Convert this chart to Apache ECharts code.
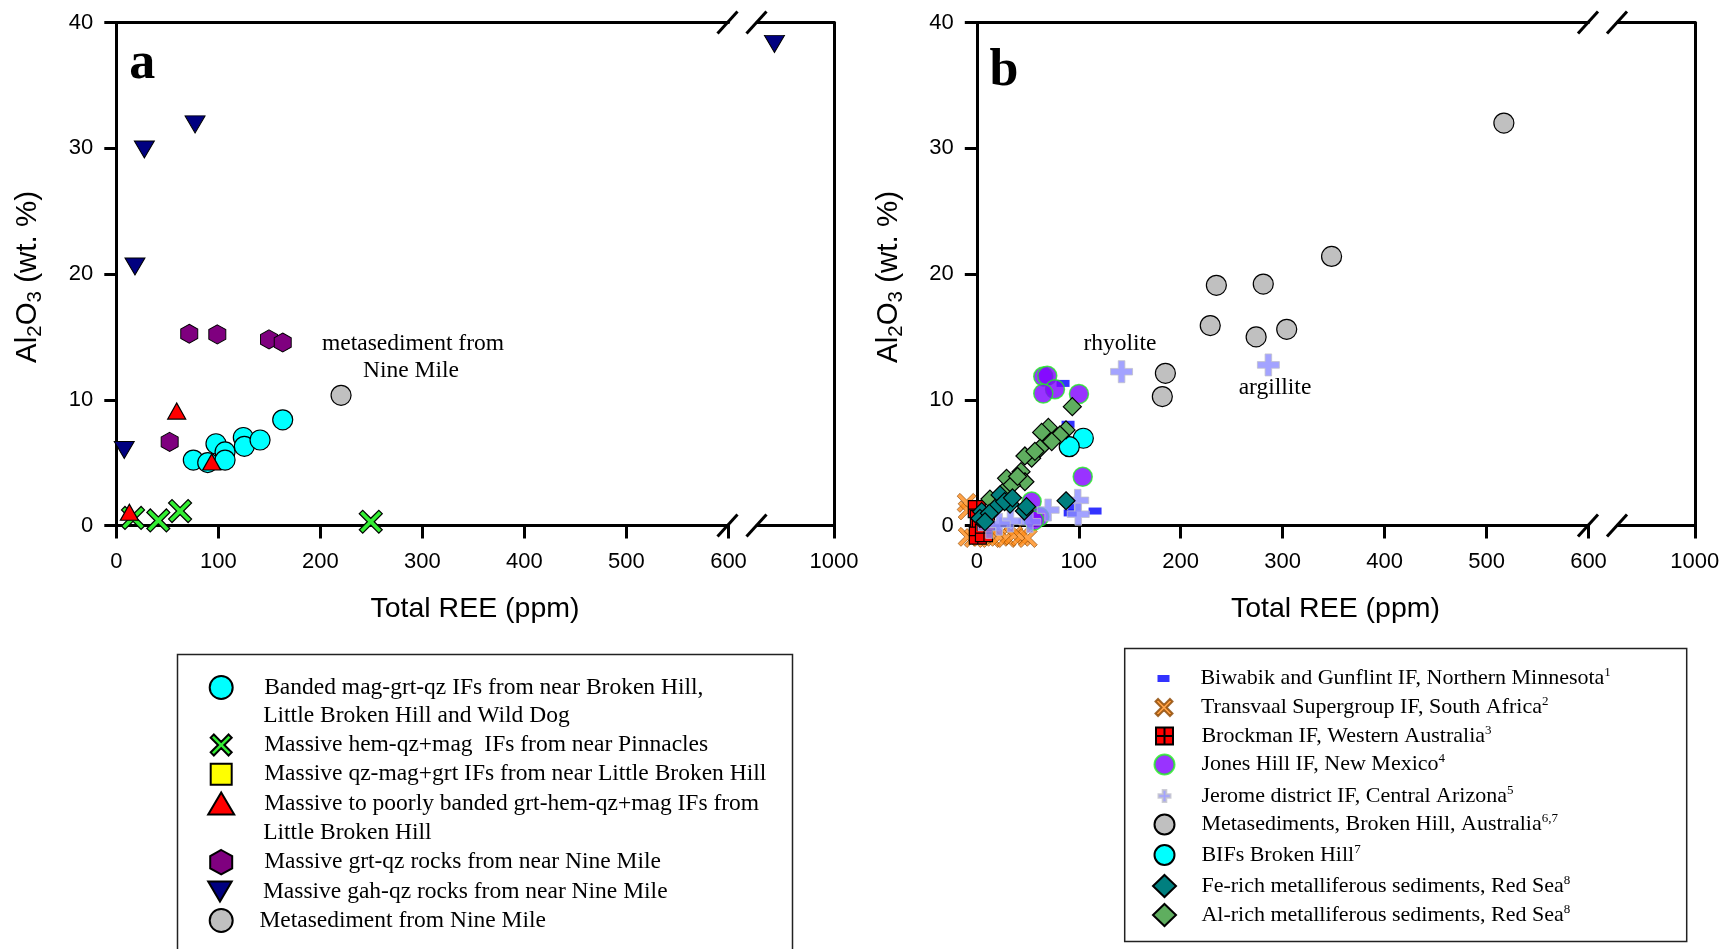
<!DOCTYPE html>
<html><head><meta charset="utf-8">
<script src="https://cdn.jsdelivr.net/npm/echarts@6.0.0/dist/echarts.min.js"></script>
<style>html,body{margin:0;padding:0;background:#fff}#c{width:1724px;height:949px}</style>
</head><body><div id="c"></div><script>
// ---------------- DATA ----------------
const X_TICKS = [0, 100, 200, 300, 400, 500, 600];
const X_TICKS_AFTER_BREAK = [1000];
const Y_TICKS = [0, 10, 20, 30, 40];

// Panel a categories
const NAMES_A = [
  'Banded mag-grt-qz IFs from near Broken Hill, Little Broken Hill and Wild Dog',
  'Massive hem-qz+mag  IFs from near Pinnacles',
  'Massive qz-mag+grt IFs from near Little Broken Hill',
  'Massive to poorly banded grt-hem-qz+mag IFs from Little Broken Hill',
  'Massive grt-qz rocks from near Nine Mile',
  'Massive gah-qz rocks from near Nine Mile',
  'Metasediment from Nine Mile'
];
// Panel a values [Total REE ppm, Al2O3 wt.%]
const a_banded = [[75.5,5.2],[89.6,5.0],[97.7,6.5],[106.6,5.85],[106.6,5.2],[124.5,7.0],[125.5,6.3],[140.9,6.8],[163.1,8.4]];
const a_hemQz = [[16.4,0.6],[41.2,0.4],[62.5,1.15],[249.4,0.3]];
const a_qzMag = [];
const a_grtHem = [[12.8,1.05],[59.2,9.1],[93.5,5.05]];
const a_grtQz = [[71.5,15.25],[99,15.2],[149.7,14.8],[163.1,14.55],[52.3,6.65]];
const a_gahQz = [[7.8,6.0],[18.3,20.6],[27.5,29.9],[77.2,31.9],[942,38.3]];
const a_metased = [[220.3,10.35]];

// Panel b categories and superscripts
const NAMES_B = [
  'Biwabik and Gunflint IF, Northern Minnesota',
  'Transvaal Supergroup IF, South Africa',
  'Brockman IF, Western Australia',
  'Jones Hill IF, New Mexico',
  'Jerome district IF, Central Arizona',
  'Metasediments, Broken Hill, Australia',
  'BIFs Broken Hill',
  'Fe-rich metalliferous sediments, Red Sea',
  'Al-rich metalliferous sediments, Red Sea'
];
const SUPS_B = ['1','2','3','4','5','6,7','7','8','8'];
const b_biwabik = [[84.6,11.3],[89.5,8.05],[96,1.5],[116,1.15],[91.6,1.0]];
const b_transvaal = [[-10,1.8],[-9,1.2],[-9,-0.9],[-3,-1.0],[5,-0.9],[14,-1.0],[22,-0.9],[29,-1.0],[36,-0.8],[43,-0.9],[50,-1.0]];
const b_brockman = [[0,1.3],[2,0.5],[4,-0.2],[1,-0.8],[7,-0.6],[9,0.3]];
const b_jones = [[65.2,11.84],[69.1,11.9],[76.7,10.84],[65.2,10.5],[100.2,10.46],[103.9,3.88],[53.8,1.9],[61.3,0.7],[56,0.4]];
const b_jerome = [[142,12.23],[286,12.77],[70,1.23],[99,2.0],[99.5,0.9],[52,0.3],[33,0.35],[12,-0.15],[22,0.1]];
const b_metased = [[517,32.0],[348,21.4],[235,19.1],[281,19.2],[229,15.9],[274,15.0],[304,15.6],[185,12.1],[182,10.25]];
const b_bifs = [[104.5,6.94],[90.7,6.27]];
const b_feRich = [[87.5,1.97],[46.6,1.15],[32.6,1.7],[22.8,2.43],[17.9,1.37],[4.8,1.1],[3.1,0.57],[12.3,0.97],[27.3,1.9],[48.8,1.5],[8,0.3],[35,2.2]];
const b_alRich = [[93.7,9.45],[70.2,7.8],[63.6,7.4],[87.5,7.6],[81.6,7.2],[73.5,6.67],[62,6.14],[53.8,5.35],[47.2,5.53],[43.4,4.28],[47.2,3.48],[29.2,3.75],[34.1,3.2],[12.9,2.1],[57,5.9],[40,3.9],[25,2.6]];

// ---------------- STYLE / LAYOUT ----------------
const BREAK_AT = 600, POST_MIN = 925, POST_MAX = 1000;
const P_X = 'path://M0,3L3,0L10,7L17,0L20,3L13,10L20,17L17,20L10,13L3,20L0,17L7,10Z';
const P_HEX = 'path://M10,0L19,5L19,15L10,20L1,15L1,5Z';
const P_INVTRI = 'path://M0,0L20,0L10,17Z';
const P_PLUS = 'path://M7,0H13V7H20V13H13V20H7V13H0V7H7Z';
const P_GRIDSQ = 'path://M0,0H10V10H0Z M10,0H20V10H10Z M0,10H10V20H0Z M10,10H20V20H10Z';

const SANS = 'Liberation Sans';
const SERIF = 'Liberation Serif';
const plainNum = v => String(v);

const grids = [
  {left:116.3, top:22.5, width:612.2, height:503},
  {left:757, top:22.5, width:77, height:503},
  {left:976.8, top:22.5, width:611.7, height:503},
  {left:1617.5, top:22.5, width:77.3, height:503}
];

const axisLineStyle = {color:'#000', width:3};
const xAxes = [], yAxes = [];
for (let p = 0; p < 2; p++) {
  const g0 = p*2, g1 = p*2+1;
  xAxes.push({type:'value', gridIndex:g0, min:0, max:BREAK_AT, interval:100, position:'bottom',
    axisLine:{onZero:false, lineStyle:axisLineStyle},
    axisTick:{length:13, lineStyle:{color:'#000', width:3}, customValues:X_TICKS},
    axisLabel:{margin:25, fontSize:22, fontFamily:SANS, color:'#000', customValues:X_TICKS, formatter:plainNum},
    splitLine:{show:false}});
  xAxes.push({type:'value', gridIndex:g1, min:POST_MIN, max:POST_MAX, position:'bottom',
    axisLine:{onZero:false, lineStyle:axisLineStyle},
    axisTick:{length:13, lineStyle:{color:'#000', width:3}, customValues:X_TICKS_AFTER_BREAK},
    axisLabel:{margin:25, fontSize:22, fontFamily:SANS, color:'#000', customValues:X_TICKS_AFTER_BREAK, formatter:plainNum},
    splitLine:{show:false}});
  yAxes.push({type:'value', gridIndex:g0, min:0, max:40, interval:10, position:'left',
    axisLine:{onZero:false, lineStyle:axisLineStyle},
    axisTick:{length:12, lineStyle:{color:'#000', width:3}},
    axisLabel:{margin:23, fontSize:22, fontFamily:SANS, color:'#000', customValues:Y_TICKS, formatter:plainNum},
    splitLine:{show:false}});
  yAxes.push({type:'value', gridIndex:g1, min:0, max:40, position:'right',
    axisLine:{onZero:false, lineStyle:axisLineStyle},
    axisTick:{show:false}, axisLabel:{show:false}, splitLine:{show:false}});
}
// top frame lines
for (let g = 0; g < 4; g++) {
  const post = g % 2 === 1;
  xAxes.push({type:'value', gridIndex:g, min: post ? POST_MIN : 0, max: post ? POST_MAX : BREAK_AT, position:'top',
    axisLine:{onZero:false, lineStyle:axisLineStyle}, axisTick:{show:false}, axisLabel:{show:false}, splitLine:{show:false}});
}

const series = [];
function addSeries(panel, name, data, symbol, size, itemStyle, z) {
  const main = data.filter(d => d[0] <= BREAK_AT);
  const post = data.filter(d => d[0] > BREAK_AT);
  const base = {type:'scatter', name, symbol, symbolSize:size, itemStyle, clip:false, z:z||2,
    emphasis:{disabled:true}, animation:false};
  series.push(Object.assign({}, base, {xAxisIndex:panel*2, yAxisIndex:panel*2, data:main}));
  if (post.length) series.push(Object.assign({}, base, {xAxisIndex:panel*2+1, yAxisIndex:panel*2+1, data:post}));
}
const blk = (c, w) => ({color:c, borderColor:'#000', borderWidth:w===undefined?1.2:w, opacity:1});

// panel a
addSeries(0, NAMES_A[0], a_banded, 'circle', 20, blk('#00ffff'));
addSeries(0, NAMES_A[1], a_hemQz, P_X, 23, blk('#33ee33', 1.2));
addSeries(0, NAMES_A[2], a_qzMag, 'rect', 18, blk('#ffff00'));
addSeries(0, NAMES_A[3], a_grtHem, 'triangle', [18,16], blk('#ff0000'));
addSeries(0, NAMES_A[4], a_grtQz, P_HEX, [17,19], blk('#7f007f', 1));
addSeries(0, NAMES_A[5], a_gahQz, P_INVTRI, [20,17], blk('#000080', 1));
addSeries(0, NAMES_A[6], a_metased, 'circle', 20, blk('#c0c0c0'));
// panel b
addSeries(1, NAMES_B[0], b_biwabik, 'rect', [13,7], {color:'#0000ff', borderWidth:0});
addSeries(1, NAMES_B[1], b_transvaal, P_X, 19, {color:'#ff8c1a', borderColor:'#8a4500', borderWidth:0.8});
addSeries(1, NAMES_B[2], b_brockman, P_GRIDSQ, 17, blk('#ff0000', 1.2));
addSeries(1, NAMES_B[3], b_jones, 'circle', 19, {color:'#8000ff', borderColor:'#22ee22', borderWidth:1.5});
addSeries(1, NAMES_B[4], b_jerome, P_PLUS, 22, {color:'#8c8cff', borderColor:'#c0c0cc', borderWidth:1});
addSeries(1, NAMES_B[5], b_metased, 'circle', 20, blk('#c0c0c0'));
addSeries(1, NAMES_B[6], b_bifs, 'circle', 20, blk('#00ffff'));
addSeries(1, NAMES_B[8], b_alRich, 'diamond', 18, blk('#5fae5f'), 3);
addSeries(1, NAMES_B[7], b_feRich, 'diamond', 18, blk('#007f7f'), 4);

// ---------------- LEGENDS (one row per legend) ----------------
const legendRowsA = [
  {i:0, text:'Banded mag-grt-qz IFs from near Broken Hill,', y:687.5, w:23, h:23, tx:263.2},
  {i:1, text:'Massive hem-qz+mag  IFs from near Pinnacles', y:745, w:21, h:21, tx:263.2},
  {i:2, text:'Massive qz-mag+grt IFs from near Little Broken Hill', y:774.3, w:21, h:21, tx:263.2},
  {i:3, text:'Massive to poorly banded grt-hem-qz+mag IFs from', y:803.5, w:26, h:22, tx:263.2},
  {i:4, text:'Massive grt-qz rocks from near Nine Mile', y:862, w:22, h:25, tx:263.2},
  {i:5, text:'Massive gah-qz rocks from near Nine Mile', y:891.5, w:26, h:20, tx:263.2},
  {i:6, text:'Metasediment from Nine Mile', y:920.5, w:23, h:23, tx:258.4}
];
const legendRowsB = [
  {i:0, y:678.5, w:12, h:7}, {i:1, y:707.5, w:18, h:17}, {i:2, y:736, w:17, h:17},
  {i:3, y:764.5, w:20, h:20}, {i:4, y:796, w:12, h:12}, {i:5, y:824.5, w:20, h:20},
  {i:6, y:855, w:20, h:20}, {i:7, y:886, w:23, h:22}, {i:8, y:915, w:23, h:22}
];
const legends = [];
const LH_A = 26, LH_B = 24;
legendRowsA.forEach(r => {
  const cx = 220.2, left = cx - r.w/2;
  legends.push({show:true, selectedMode:false, orient:'vertical', padding:0, itemGap:0,
    left:left, top:r.y - Math.max(r.h, LH_A)/2, itemWidth:r.w, itemHeight:r.h,
    data:[NAMES_A[r.i]], formatter:() => r.text,
    textStyle:{fontFamily:SERIF, fontSize:23.5, color:'#000', lineHeight:LH_A,
      padding:[0,0,0, r.tx - (left + r.w + 5)]}});
});
legendRowsB.forEach(r => {
  const cx = 1163.5, left = cx - r.w/2, tx = 1200.4;
  legends.push({show:true, selectedMode:false, orient:'vertical', padding:0, itemGap:0,
    left:left, top:r.y - Math.max(r.h, LH_B)/2, itemWidth:r.w, itemHeight:r.h,
    data:[NAMES_B[r.i]], formatter:(n) => n + '{s|' + SUPS_B[r.i] + '}',
    textStyle:{fontFamily:SERIF, fontSize:22, color:'#000', lineHeight:LH_B,
      padding:[0,0,0, tx - (left + r.w + 5)],
      rich:{s:{fontFamily:SERIF, fontSize:13, lineHeight:13, verticalAlign:'top', color:'#000'}}}});
});

// ---------------- GRAPHIC TEXT & DECOR ----------------
const graphic = [];
[0, 860.5].forEach((off, p) => {
  // break marks
  [727.5, 756.5].forEach(cx => [22.5, 525.5].forEach(cy => {
    graphic.push({type:'line', shape:{x1:cx+off-10, y1:cy+11, x2:cx+off+10, y2:cy-11},
      style:{stroke:'#000', lineWidth:3}, z:100});
  }));
  graphic.push({type:'text', x:475+off, y:609, z:100, style:{text:'Total REE (ppm)',
    font:'28.5px ' + SANS, fill:'#000', textAlign:'center', textVerticalAlign:'middle'}});
  graphic.push({type:'text', x:28+off, y:277, rotation:Math.PI/2, z:100, style:{
    text:'{n|Al}{s|2}{n|O}{s|3}{n| (wt. %)}', fill:'#000', textAlign:'center', textVerticalAlign:'middle',
    rich:{n:{fontFamily:SANS, fontSize:29.5, lineHeight:36, verticalAlign:'middle', fill:'#000'},
          s:{fontFamily:SANS, fontSize:20.5, lineHeight:20, verticalAlign:'bottom', fill:'#000'}}}});
});
graphic.push({type:'text', x:129.3, y:64.5, z:100, style:{text:'a', font:'bold 52px ' + SERIF, fill:'#000', textAlign:'left', textVerticalAlign:'middle'}});
graphic.push({type:'text', x:989.5, y:72, z:100, style:{text:'b', font:'bold 52px ' + SERIF, fill:'#000', textAlign:'left', textVerticalAlign:'middle'}});
const annot = (t, x, y) => graphic.push({type:'text', x, y, z:100, style:{text:t, font:'23.5px ' + SERIF, fill:'#000', textAlign:'center', textVerticalAlign:'middle'}});
annot('metasediment from', 413, 344);
annot('Nine Mile', 411, 371);
annot('rhyolite', 1120, 344);
annot('argillite', 1275, 388);
// legend continuation lines
const contLine = (t, x, y) => graphic.push({type:'text', x, y, z:100, style:{text:t, font:'23.5px ' + SERIF, fill:'#000', textAlign:'left', textVerticalAlign:'middle'}});
contLine('Little Broken Hill and Wild Dog', 263.2, 715.5);
contLine('Little Broken Hill', 263.2, 832.5);
// legend frames
graphic.push({type:'rect', shape:{x:177.5, y:654.5, width:615, height:320}, style:{fill:'none', stroke:'#222', lineWidth:1.5}, z:1});
graphic.push({type:'rect', shape:{x:1124.7, y:648.5, width:562, height:293}, style:{fill:'none', stroke:'#222', lineWidth:1.5}, z:1});

const chart = echarts.init(document.getElementById('c'), null, {renderer:'canvas', width:1724, height:949});
chart.setOption({
  animation:false,
  backgroundColor:'#fff',
  grid:grids,
  xAxis:xAxes,
  yAxis:yAxes,
  legend:legends,
  series:series,
  graphic:graphic
});
</script></body></html>
